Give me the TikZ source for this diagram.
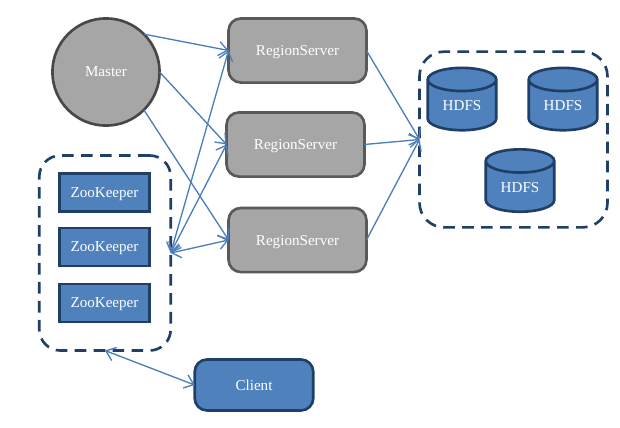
\documentclass[tikz,border=0pt]{standalone}
\usepackage{fontspec}
\setmainfont{Liberation Serif}
\usetikzlibrary{arrows.meta}
\usetikzlibrary{shapes.geometric}
\definecolor{boxBlue}{HTML}{4F81BD}
\definecolor{edgeBlue}{HTML}{1F3F66}
\definecolor{lineBlue}{HTML}{4A7EBB}
\definecolor{boxGrey}{HTML}{A6A6A6}
\definecolor{edgeGrey}{HTML}{595959}
\begin{document}
\begin{tikzpicture}
[x=0.02cm,y=-0.02cm,
lineDecorate/.style={-{Straight Barb[length=5pt,width=8pt]},line width=0.75pt,draw=lineBlue},
bothDecorate/.style={{Straight Barb[length=5pt,width=8pt]}-{Straight Barb[length=5pt,width=8pt]},line width=0.75pt,draw=lineBlue},
textDecorate/.style={text=white,font=\fontsize{8.6}{10}\selectfont,text depth=0pt,inner sep=0pt,outer sep=0pt},
groupDecorate/.style={shape=rectangle,rounded corners=12pt,draw=edgeBlue,line width=1.5pt,dash pattern=on 6.6pt off 4.2pt,inner sep=0pt,outer sep=0pt},
greyDecorate/.style={textDecorate,shape=rectangle,rounded corners=7pt,draw=edgeGrey,fill=boxGrey,line width=1.5pt,minimum width=78.5pt,minimum height=36.5pt},
keeperDecorate/.style={textDecorate,shape=rectangle,draw=edgeBlue,fill=boxBlue,line width=1.5pt,minimum width=51.5pt,minimum height=21.5pt},
hdfsDecorate/.style={textDecorate,shape=cylinder,shape border rotate=90,shape aspect=0.6,draw=edgeBlue,fill=boxBlue,line width=1.5pt,minimum width=39pt,minimum height=35.5pt}]

 \useasboundingbox (0,0) rectangle (620,427);

 \node (zkgroup) at (105,253) [groupDecorate, minimum width=74.8pt, minimum height=111pt] {};
 \node (hdfsgroup) at (513.5,139.5) [groupDecorate, rounded corners=14pt, minimum width=107pt, minimum height=100pt] {};

 \node (master) at (106,72) [textDecorate, shape=circle, draw=edgeGrey!80!black, fill=boxGrey, line width=1.5pt, minimum size=61pt] {Master};

 \foreach \i/\xpos/\ypos in {1/297.5/50.5,2/295.5/144.5,3/297.5/240}
 {
          \node (rs\i) at (\xpos,\ypos) [greyDecorate] {RegionServer};

 }

 \foreach \i/\ypos in {1/192.5,2/247,3/303}
 {
          \node (zk\i) at (104.5,\ypos) [keeperDecorate] {ZooKeeper};

 }

 \node (hdfs1) at (462,105.5) [hdfsDecorate] {HDFS};
 \node (hdfs2) at (563,105.5) [hdfsDecorate] {HDFS};
 \node (hdfs3) at (520,187) [hdfsDecorate] {HDFS};

 \node (client) at (254,385) [textDecorate, shape=rectangle, rounded corners=7pt, draw=edgeBlue, fill=boxBlue, line width=1.5pt, minimum width=67.5pt, minimum height=29pt] {Client};

\path
(master.45) edge[lineDecorate] node {} (rs1.west)
(master.0) edge[lineDecorate] node {} (rs2.west)
(master.-45) edge[lineDecorate] node {} (rs3.west)
(zkgroup.south) edge[bothDecorate] node {} (client.west)
 \foreach \i in {1,2,3}
        {
          (zkgroup.east) edge[bothDecorate] node {} (rs\i.west)
          (rs\i.east) edge[lineDecorate] node {} (hdfsgroup.west)
 };
\end{tikzpicture}
\end{document}
